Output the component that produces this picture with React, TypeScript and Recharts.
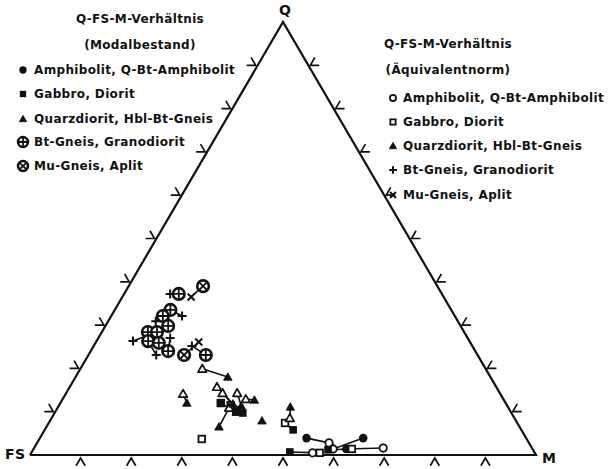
import React from "react";
import { ScatterChart, Scatter, XAxis, YAxis } from "recharts";

// ternary values as [Q, FS, M] in percent
type Tern = [number, number, number];
type Pair = [Tern | null, Tern | null]; // [modal, norm]

const amphibolitPairs: Pair[] = [
  [[3.9, 43.4, 52.7], [2.8, 39.5, 57.7]],
  [[3.9, 32.2, 63.9], [1.4, 39.4, 59.2]],
  [[1.4, 36.8, 61.8], [1.6, 29.4, 69.0]],
  [null, [0.5, 43.9, 55.6]],
];

const gabbroPairs: Pair[] = [
  [[12.0, 56.3, 31.7], null],
  [[9.9, 54.4, 35.7], [12.0, 56.3, 31.7]],
  [[9.7, 53.1, 37.2], [11.5, 54.6, 33.9]],
  [null, [3.7, 64.2, 32.1]],
  [[5.8, 45.1, 49.1], [7.4, 45.9, 46.7]],
  [[0.7, 48.3, 51.0], [0.5, 42.5, 57.0]],
  [[1.2, 40.5, 58.3], [1.4, 35.7, 62.9]],
];

const quarzdioritPairs: Pair[] = [
  [[18.0, 51.9, 30.1], [19.9, 56.0, 24.1]],
  [[12.0, 63.0, 25.0], [14.1, 62.7, 23.2]],
  [[11.8, 54.0, 34.2], [15.7, 55.2, 29.1]],
  [[10.4, 53.7, 35.9], [14.3, 54.8, 30.9]],
  [[11.3, 52.6, 36.1], [14.3, 51.9, 33.8]],
  [[12.7, 49.3, 38.0], [12.9, 50.9, 36.2]],
  [[6.5, 59.4, 34.1], [10.9, 55.2, 33.9]],
  [[7.9, 50.2, 41.9], null],
  [[11.1, 43.0, 45.9], [8.5, 44.4, 47.1]],
];

const btGneisPairs: Pair[] = [
  [[37.2, 52.0, 10.8], [37.2, 53.7, 9.1]],
  [[33.5, 55.5, 11.0], [32.1, 53.9, 14.0]],
  [[32.1, 57.7, 10.2], [30.9, 59.7, 9.4]],
  [[29.8, 57.8, 12.4], null],
  [[28.4, 62.5, 9.1], null],
  [[28.4, 60.7, 10.9], [26.3, 66.5, 7.2]],
  [[26.3, 63.5, 10.2], [23.1, 63.5, 13.4]],
  [[25.9, 61.6, 12.5], null],
  [[24.0, 60.7, 15.3], [27.0, 58.8, 14.2]],
  [[23.1, 53.7, 23.2], [25.2, 55.4, 19.4]],
];

const muGneisPairs: Pair[] = [
  [[39.0, 46.3, 14.7], [36.5, 49.9, 13.6]],
  [[23.1, 58.0, 18.9], [26.1, 53.6, 20.3]],
];

const tickSteps = [10, 20, 30, 40, 50, 60, 70, 80, 90];

const legendLabels = [
  "Amphibolit, Q-Bt-Amphibolit",
  "Gabbro, Diorit",
  "Quarzdiorit, Hbl-Bt-Gneis",
  "Bt-Gneis, Granodiorit",
  "Mu-Gneis, Aplit",
];

const W = 608;
const H = 469;
const MARGIN = { top: 22, right: 72, bottom: 14, left: 30 };
const PW = W - MARGIN.left - MARGIN.right;
const PH = H - MARGIN.top - MARGIN.bottom;
const INK = "#111";

const toXY = (t: Tern) => ({ x: t[2] + t[0] / 2, y: t[0] });

// pixel directions of the two slanted edges
const eLen = Math.hypot(PW / 2, PH);
const ux = PW / 2 / eLen;
const uy = PH / eLen;

type Kind = "dot" | "ring" | "sq" | "osq" | "tri" | "otri" | "oplus" | "plus" | "otimes" | "times";

function Symbol({ kind, cx, cy, s = 1 }: { kind: Kind; cx: number; cy: number; s?: number }) {
  const r = 4.3 * s;
  switch (kind) {
    case "dot":
      return <circle cx={cx} cy={cy} r={r} fill={INK} />;
    case "ring":
      return <circle cx={cx} cy={cy} r={r - 0.6} fill="#fff" stroke={INK} strokeWidth={1.8} />;
    case "sq":
      return <rect x={cx - r + 0.5} y={cy - r + 0.5} width={2 * r - 1} height={2 * r - 1} fill={INK} />;
    case "osq":
      return (
        <rect x={cx - r + 1} y={cy - r + 1} width={2 * r - 2} height={2 * r - 2} fill="#fff" stroke={INK} strokeWidth={1.8} />
      );
    case "tri":
    case "otri": {
      const pts = `${cx},${cy - r} ${cx - r},${cy + r * 0.75} ${cx + r},${cy + r * 0.75}`;
      return kind === "tri" ? (
        <polygon points={pts} fill={INK} stroke={INK} strokeWidth={0.8} strokeLinejoin="round" />
      ) : (
        <polygon points={pts} fill="#fff" stroke={INK} strokeWidth={1.7} strokeLinejoin="round" />
      );
    }
    case "oplus":
    case "otimes": {
      const R = 5.8 * s;
      const d = kind === "oplus" ? R * 0.9 : R * 0.65;
      return (
        <g>
          <circle cx={cx} cy={cy} r={R} fill="#fff" stroke={INK} strokeWidth={2.6} />
          {kind === "oplus" ? (
            <path d={`M${cx - d} ${cy}H${cx + d}M${cx} ${cy - d}V${cy + d}`} stroke={INK} strokeWidth={1.8} />
          ) : (
            <path d={`M${cx - d} ${cy - d}L${cx + d} ${cy + d}M${cx - d} ${cy + d}L${cx + d} ${cy - d}`} stroke={INK} strokeWidth={1.8} />
          )}
        </g>
      );
    }
    case "plus": {
      const d = 4.5 * s;
      return <path d={`M${cx - d} ${cy}H${cx + d}M${cx} ${cy - d}V${cy + d}`} stroke={INK} strokeWidth={2} />;
    }
    case "times": {
      const d = 3.5 * s;
      return (
        <path d={`M${cx - d} ${cy - d}L${cx + d} ${cy + d}M${cx - d} ${cy + d}L${cx + d} ${cy - d}`} stroke={INK} strokeWidth={2} />
      );
    }
  }
  return <g />;
}

const groups: { pairs: Pair[]; modal: Kind; norm: Kind }[] = [
  { pairs: amphibolitPairs, modal: "dot", norm: "ring" },
  { pairs: gabbroPairs, modal: "sq", norm: "osq" },
  { pairs: quarzdioritPairs, modal: "tri", norm: "otri" },
  { pairs: btGneisPairs, modal: "oplus", norm: "plus" },
  { pairs: muGneisPairs, modal: "otimes", norm: "times" },
];

const outline = [
  { x: 0, y: 0 },
  { x: 100, y: 0 },
  { x: 50, y: 100 },
  { x: 0, y: 0 },
];

const bottomTicks = tickSteps.map((k) => ({ x: k, y: 0 }));
const leftTicks = tickSteps.map((k) => ({ x: k / 2, y: k }));
const rightTicks = tickSteps.map((k) => ({ x: 100 - k / 2, y: k }));

const A = 9;
const none = () => <g />;

const tickShape = (edge: "b" | "l" | "r") => (p: any) => {
  const { cx, cy } = p;
  let d = "";
  if (edge === "b") {
    const vy = cy + 3;
    d = `M${cx - ux * A} ${vy + uy * A}L${cx} ${vy}L${cx + ux * A} ${vy + uy * A}`;
  } else if (edge === "l") {
    const vx = cx - 2;
    d = `M${vx - A} ${cy}L${vx} ${cy}L${vx - ux * A} ${cy - uy * A}`;
  } else {
    const vx = cx + 2;
    d = `M${vx + A} ${cy}L${vx} ${cy}L${vx + ux * A} ${cy - uy * A}`;
  }
  return <path d={d} fill="none" stroke={INK} strokeWidth={1.7} />;
};

const txt: React.CSSProperties = {
  position: "absolute",
  fontFamily: "'DejaVu Sans', sans-serif",
  fontWeight: "bold",
  fontSize: 12,
  letterSpacing: 0.35,
  lineHeight: "14px",
  color: INK,
  whiteSpace: "nowrap",
};

function LegendBlock({
  title,
  sub,
  titleX,
  titleY,
  markerX,
  textX,
  ys,
  kinds,
}: {
  title: string;
  sub: string;
  titleX: number;
  titleY: number;
  markerX: number;
  textX: number;
  ys: number[];
  kinds: Kind[];
}) {
  return (
    <>
      <div style={{ ...txt, left: titleX - 100, width: 200, textAlign: "center", top: titleY - 7 }}>{title}</div>
      <div style={{ ...txt, left: titleX - 100, width: 200, textAlign: "center", top: titleY + 19 }}>{sub}</div>
      {legendLabels.map((label, i) => (
        <React.Fragment key={label}>
          <svg style={{ position: "absolute", left: markerX - 8, top: ys[i] - 8 }} width={16} height={16}>
            <Symbol kind={kinds[i]} cx={8} cy={8} s={0.85} />
          </svg>
          <div style={{ ...txt, left: textX, top: ys[i] - 7 }}>{label}</div>
        </React.Fragment>
      ))}
    </>
  );
}

export default function App() {
  const series: React.ReactNode[] = [];
  groups.forEach((g, gi) => {
    g.pairs.forEach((pair, pi) => {
      if (pair[0] && pair[1]) {
        series.push(
          <Scatter
            key={`tie-${gi}-${pi}`}
            data={[toXY(pair[0]), toXY(pair[1])]}
            line={{ stroke: INK, strokeWidth: 1.6 }}
            shape={none}
            isAnimationActive={false}
          />
        );
      }
    });
  });
  groups.forEach((g, gi) => {
    const norm = g.pairs.filter((p) => p[1]).map((p) => toXY(p[1] as Tern));
    const modal = g.pairs.filter((p) => p[0]).map((p) => toXY(p[0] as Tern));
    series.push(
      <Scatter
        key={`norm-${gi}`}
        data={norm}
        shape={(p: any) => <Symbol kind={g.norm} cx={p.cx} cy={p.cy} />}
        isAnimationActive={false}
      />
    );
    series.push(
      <Scatter
        key={`modal-${gi}`}
        data={modal}
        shape={(p: any) => <Symbol kind={g.modal} cx={p.cx} cy={p.cy} />}
        isAnimationActive={false}
      />
    );
  });

  return (
    <div style={{ position: "absolute", left: 0, top: 0, width: W, height: H, background: "#fff" }}>
      <ScatterChart width={W} height={H} margin={MARGIN}>
        <XAxis type="number" dataKey="x" domain={[0, 100]} hide />
        <YAxis type="number" dataKey="y" domain={[0, 100]} hide />
        <Scatter
          data={outline}
          line={{ stroke: INK, strokeWidth: 2.2, strokeLinejoin: "miter" }}
          shape={none}
          isAnimationActive={false}
        />
        <Scatter data={bottomTicks} shape={tickShape("b")} isAnimationActive={false} />
        <Scatter data={leftTicks} shape={tickShape("l")} isAnimationActive={false} />
        <Scatter data={rightTicks} shape={tickShape("r")} isAnimationActive={false} />
        {series}
      </ScatterChart>

      <div style={{ ...txt, fontSize: 14, left: 279, top: 3 }}>Q</div>
      <div style={{ ...txt, fontSize: 14, left: 5, top: 447 }}>FS</div>
      <div style={{ ...txt, fontSize: 14, left: 542, top: 451 }}>M</div>

      <LegendBlock
        title="Q-FS-M-Verhältnis"
        sub="(Modalbestand)"
        titleX={140}
        titleY={19}
        markerX={23}
        textX={34}
        ys={[70, 94, 119, 142, 166]}
        kinds={["dot", "sq", "tri", "oplus", "otimes"]}
      />
      <LegendBlock
        title="Q-FS-M-Verhältnis"
        sub="(Äquivalentnorm)"
        titleX={448}
        titleY={44}
        markerX={393}
        textX={403}
        ys={[98, 122, 146, 170, 195]}
        kinds={["ring", "osq", "tri", "plus", "times"]}
      />
    </div>
  );
}
